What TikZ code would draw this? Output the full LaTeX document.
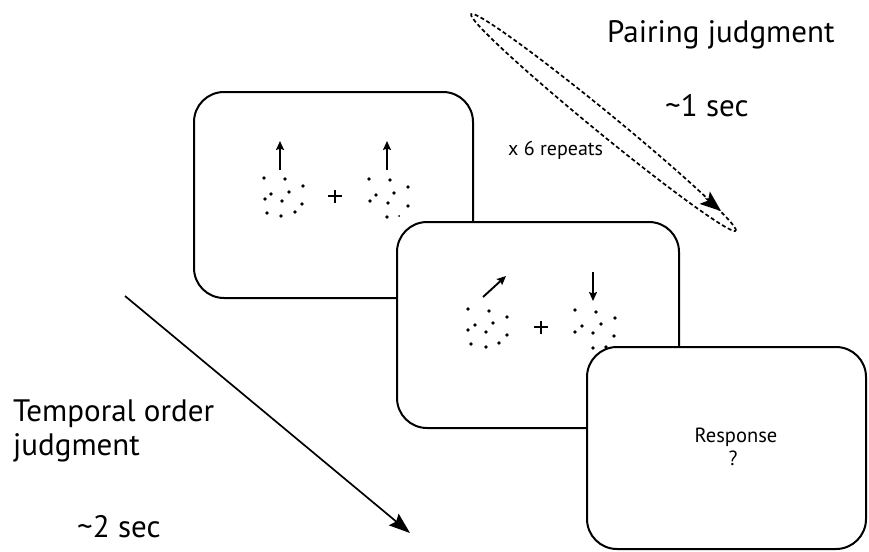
\documentclass[tikz,border=0pt]{standalone}
\usepackage{fontspec}
\setmainfont{PT Sans}
\usetikzlibrary{arrows.meta,shapes.geometric}
\begin{document}
\begin{tikzpicture}[x=1pt,y=-1pt,
  screen/.style={draw, line width=2pt, fill=white, rounded corners=30pt, inner sep=0pt},
  motion/.style={line width=1.9pt, -{Stealth[length=9pt,width=8pt,inset=1.5pt]}},
  crossbar/.style={line width=1.5pt},
  bigtext/.style={anchor=base west, inner sep=0pt, font=\fontsize{31}{34}\selectfont},
  smalltext/.style={anchor=base west, inner sep=0pt, font=\fontsize{20}{23}\selectfont},
  resptext/.style={anchor=base, inner sep=0pt, font=\fontsize{20.5}{23}\selectfont},
  loopline/.style={draw, dashed, dash pattern=on 4pt off 2.6pt, line width=1.7pt},
  dot/.style={radius=1.8pt}]
\useasboundingbox (0,0) rectangle (869,551);

% first display: two upward-moving dot clouds around a fixation cross
\node[screen, minimum width=279pt, minimum height=206pt] (s1) at (333.5,195) {};
\draw[motion] (280,170) -- (280,141);
\draw[motion, line width=1.6pt] (387,170) -- (387,141);
\foreach \p in {(264,178),(285,179),(303,186),(289,192),(271,194),(265,199),(282,201),(302,204),(267,213),(281,216),(295,212)}
  \fill \p circle[dot];
\foreach \p in {(369,179),(390,180),(408,187),(394,193),(376,195),(370,201),(388,203),(408,206),(387,217)}
  \fill \p circle[dot];
\fill (399,216) circle[radius=1pt];
\draw[crossbar] (328,196) -- (342,196) (335,189.5) -- (335,202.5);

% second display: oblique and downward motion
\node[screen, minimum width=282pt, minimum height=206pt] (s2) at (538,325) {};
\draw[motion] (483,297) -- (506,276);
\draw[motion, line width=1.6pt] (593,272) -- (593,301);
\foreach \p in {(468,309),(489,311),(507,317),(493,323),(475,325),(468,330),(486,332),(507,335),(471,344),(486,347),(499,343)}
  \fill \p circle[dot];
\foreach \p in {(575,310),(596,312),(615,318),(601,324),(582,326),(575,332),(593,333),(614,336),(593,348),(606,347)}
  \fill \p circle[dot];
\draw[crossbar] (534,327) -- (548,327) (541,320.5) -- (541,333.5);

% response display
\node[screen, minimum width=279pt, minimum height=202pt] (s3) at (726.5,448) {};
\node[resptext] (resp) at (736,442) {Response};
\node[resptext] (qm) at (733,465) {?};

% repeated pairing loop
\node[loopline, ellipse, minimum width=342pt, minimum height=21pt, inner sep=0pt, rotate=-39.3] (loop) at (603.5,122.5) {};
\coordinate (looptip) at (721,211);
\coordinate (looptail) at (705.5,198.3);
\draw[line width=1pt, -{Stealth[length=21pt,width=16pt,inset=4.5pt]}] (looptail) -- (looptip);
\node[smalltext] (rep) at (508,155) {x 6 repeats};

% overall trial time line
\coordinate (tstart) at (125,296);
\coordinate (tend) at (410,533);
\draw[line width=1.7pt, -{Stealth[length=21pt,width=15pt,inset=3pt]}] (tstart) -- (tend);

% labels
\node[bigtext] (pj) at (607,42) {Pairing judgment};
\node[bigtext] (t1) at (665,116) {\textasciitilde 1 sec};
\node[bigtext] (to1) at (13,421) {Temporal order};
\node[bigtext] (to2) at (13,455) {judgment};
\node[bigtext] (t2) at (77,537) {\textasciitilde 2 sec};
\end{tikzpicture}
\end{document}
